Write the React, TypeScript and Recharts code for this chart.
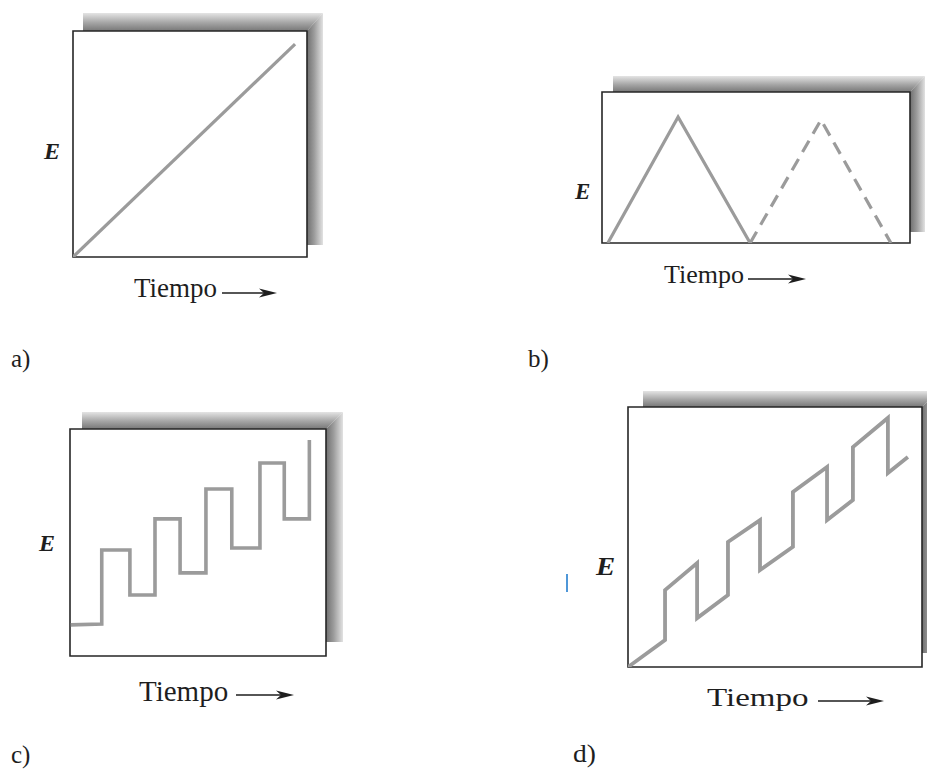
import React from 'react';
import { LineChart, Line, XAxis, YAxis, ReferenceArea } from 'recharts';

// Values, time and E both on a 0–10 scale inside each box.

// a) steady rise
const timeA = [0, 9.49];
const energyA = [0, 9.42];

// b) triangle, then the same triangle dashed
const timeB1 = [0.19, 2.47, 4.81];
const energyB1 = [0, 8.34, 0];
const timeB2 = [4.81, 7.11, 9.38];
const energyB2 = [0, 8.15, 0];

// c) staircase
const timeC = [0.03, 1.24, 1.24, 2.34, 2.34, 3.32, 3.32, 4.3, 4.3, 5.31, 5.31, 6.32, 6.32, 7.42, 7.42, 8.37, 8.37, 9.35, 9.35];
const energyC = [1.37, 1.41, 4.67, 4.67, 2.69, 2.69, 6.04, 6.04, 3.66, 3.66, 7.36, 7.36, 4.76, 4.76, 8.5, 8.5, 6.04, 6.04, 9.52];

// d) sawtooth on a ramp
const timeD = [0, 1.26, 1.26, 2.35, 2.35, 3.4, 3.4, 4.49, 4.49, 5.61, 5.61, 6.77, 6.77, 7.65, 7.65, 8.84, 8.84, 9.52];
const energyD = [0, 1.04, 2.96, 4.0, 1.88, 2.77, 4.81, 5.65, 3.73, 4.62, 6.73, 7.69, 5.65, 6.42, 8.46, 9.58, 7.46, 8.08];

const panelLabels = ['a)', 'b)', 'c)', 'd)'];
const yLabel = 'E';
const xLabel = 'Tiempo';

const toRows = (t: number[], e: number[]) => t.map((v, i) => ({ t: v, e: e[i] }));

const serif = '"Liberation Serif", "Times New Roman", serif';
const lineGray = '#9b9b9b';
const PAD = 4;

type Box = { left: number; top: number; w: number; h: number };
type Series = { rows: { t: number; e: number }[]; dash?: string; width: number };

function Shadow({ x0, y0, x1, y1, tt, tr }: { x0: number; y0: number; x1: number; y1: number; tt: number; tr: number }) {
  const w = x1 - x0;
  const h = y1 - y0;
  return (
    <>
      <div
        style={{
          position: 'absolute', left: x0, top: y0, width: w, height: tt,
          background: 'linear-gradient(to bottom, #e4e4e4, #a4a4a4 55%, #777)',
          clipPath: `polygon(0 0, 100% 0, ${w - tr}px 100%, 0 100%)`,
        }}
      />
      <div
        style={{
          position: 'absolute', left: x1 - tr, top: y0, width: tr, height: h,
          background: 'linear-gradient(to right, #6f6f6f, #9c9c9c 45%, #e2e2e2)',
          clipPath: `polygon(0 ${tt}px, 100% 0, 100% 100%, 0 100%)`,
        }}
      />
    </>
  );
}

function Plot({ box, series }: { box: Box; series: Series[] }) {
  return (
    <div style={{ position: 'absolute', left: box.left - PAD, top: box.top - PAD }}>
      <LineChart width={box.w + PAD * 2} height={box.h + PAD * 2} margin={{ top: PAD, right: PAD, bottom: PAD, left: PAD }}>
        <XAxis type="number" dataKey="t" domain={[0, 10]} hide allowDataOverflow />
        <YAxis type="number" dataKey="e" domain={[0, 10]} hide allowDataOverflow />
        <ReferenceArea x1={0} x2={10} y1={0} y2={10} fill="#ffffff" fillOpacity={1} stroke="#262626" strokeWidth={1.6} />
        {series.map((s, i) => (
          <Line
            key={i}
            data={s.rows}
            dataKey="e"
            type="linear"
            stroke={lineGray}
            strokeWidth={s.width}
            strokeDasharray={s.dash}
            strokeLinejoin="miter"
            dot={false}
            activeDot={false}
            isAnimationActive={false}
          />
        ))}
      </LineChart>
    </div>
  );
}

function Text({ x, y, size, children, italic, bold, sx = 1 }: { x: number; y: number; size: number; children: React.ReactNode; italic?: boolean; bold?: boolean; sx?: number }) {
  return (
    <div
      style={{
        position: 'absolute', left: x, top: y, fontFamily: serif, fontSize: size, lineHeight: 1,
        fontStyle: italic ? 'italic' : 'normal', fontWeight: bold ? 700 : 400, color: '#1e1e1e',
        whiteSpace: 'nowrap', transform: sx !== 1 ? `scaleX(${sx})` : undefined, transformOrigin: 'left top',
      }}
    >
      {children}
    </div>
  );
}

function Arrow({ x1, x2, y }: { x1: number; x2: number; y: number }) {
  const L = x2 - x1;
  return (
    <svg style={{ position: 'absolute', left: x1, top: y - 7 }} width={L} height={14}>
      <line x1={0} y1={7} x2={L - 10} y2={7} stroke="#1e1e1e" strokeWidth={1.6} />
      <polygon points={`${L - 18},2.5 ${L},7 ${L - 18},11.5 ${L - 13},7`} fill="#1e1e1e" />
    </svg>
  );
}

export default function App() {
  return (
    <div style={{ position: 'absolute', left: 0, top: 0, width: 927, height: 769, background: '#fff', overflow: 'hidden' }}>
      {/* a */}
      <Shadow x0={83} y0={13} x1={323} y1={245} tt={18} tr={16} />
      <Plot box={{ left: 73, top: 31, w: 234, h: 226 }} series={[{ rows: toRows(timeA, energyA), width: 3.2 }]} />
      <Text x={44} y={139} size={24} italic bold>{yLabel}</Text>
      <Text x={134} y={275} size={27}>{xLabel}</Text>
      <Arrow x1={222} x2={277} y={293} />
      <Text x={11} y={346} size={25}>{panelLabels[0]}</Text>

      {/* b */}
      <Shadow x0={613} y0={76} x1={925} y1={232} tt={16} tr={15} />
      <Plot
        box={{ left: 602, top: 92, w: 308, h: 151 }}
        series={[
          { rows: toRows(timeB1, energyB1), width: 3.2 },
          { rows: toRows(timeB2, energyB2), width: 3.2, dash: '13 8' },
        ]}
      />
      <Text x={575} y={180} size={23} italic bold>{yLabel}</Text>
      <Text x={664} y={262} size={26}>{xLabel}</Text>
      <Arrow x1={748} x2={806} y={279} />
      <Text x={528} y={346} size={25}>{panelLabels[1]}</Text>

      {/* c */}
      <Shadow x0={82} y0={412} x1={343} y1={642} tt={17} tr={17} />
      <Plot box={{ left: 70, top: 429, w: 256, h: 227 }} series={[{ rows: toRows(timeC, energyC), width: 3.6 }]} />
      <Text x={39} y={531} size={24} italic bold>{yLabel}</Text>
      <Text x={139} y={677} size={29}>{xLabel}</Text>
      <Arrow x1={236} x2={294} y={695} />
      <Text x={11} y={742} size={25}>{panelLabels[2]}</Text>

      {/* d */}
      <Shadow x0={643} y0={391} x1={938} y1={653} tt={16} tr={16} />
      <Plot box={{ left: 628, top: 407, w: 294, h: 260 }} series={[{ rows: toRows(timeD, energyD), width: 3.8 }]} />
      <div style={{ position: 'absolute', left: 566, top: 574, width: 2, height: 18, background: '#4f97d8' }} />
      <Text x={596} y={554} size={25} italic bold sx={1.15}>{yLabel}</Text>
      <Text x={707} y={685} size={26} sx={1.27}>{xLabel}</Text>
      <Arrow x1={818} x2={884} y={701} />
      <Text x={573} y={741} size={25} sx={1.1}>{panelLabels[3]}</Text>
    </div>
  );
}
